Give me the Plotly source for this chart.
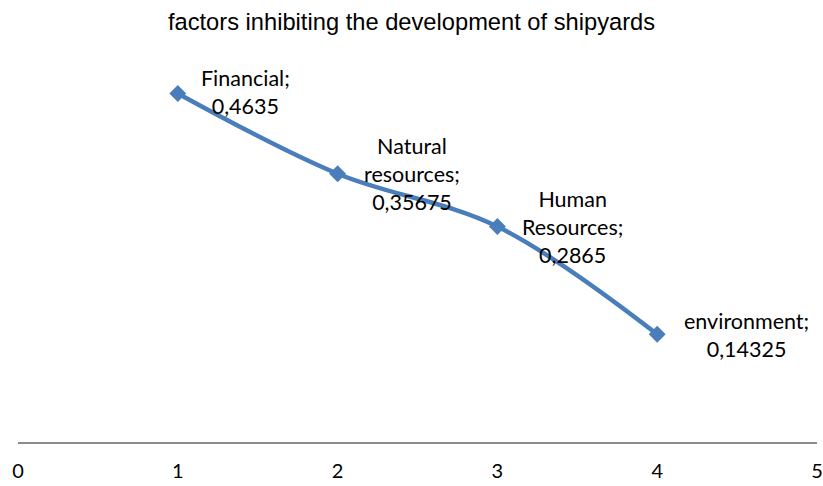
import plotly.graph_objects as go

x_vals = [1, 2, 3, 4]
y_vals = [0.4635, 0.35675, 0.2865, 0.14325]
label_names = ["Financial;", "Natural<br>resources;", "Human<br>Resources;", "environment;"]
label_values = ["0,4635", "0,35675", "0,2865", "0,14325"]
label_xshift = [68, 74, 75, 89]
label_yshift = [1, 0, 0, -1]
x_ticks = [0, 1, 2, 3, 4, 5]

fig = go.Figure()
fig.add_trace(go.Scatter(
    x=x_vals, y=y_vals, mode="lines+markers",
    line=dict(color="#4a7ebb", width=4.5, shape="spline", smoothing=1.0),
    marker=dict(symbol="diamond", size=13, color="#4a7ebb"),
    showlegend=False, hoverinfo="skip", cliponaxis=False,
))

for xv, yv, nm, val, xs, ys in zip(x_vals, y_vals, label_names, label_values, label_xshift, label_yshift):
    fig.add_annotation(
        x=xv, y=yv, xref="x", yref="y", text=f"{nm}<br>{val}",
        showarrow=False, xshift=xs, yshift=ys, align="center",
        font=dict(family="Lato, Open Sans, sans-serif", size=21.5, color="#000000"),
    )

fig.update_layout(
    width=823, height=486,
    margin=dict(l=18, r=6, t=66, b=44, autoexpand=False),
    paper_bgcolor="white", plot_bgcolor="white",
    title=dict(text="factors inhibiting the development of shipyards",
               x=0.5, xanchor="center", y=1 - 22/486, yanchor="middle",
               font=dict(family="Liberation Sans Narrow, Liberation Sans, Arial", size=23.7, color="#000000")),
    xaxis=dict(range=[0, 5], tickvals=x_ticks, ticktext=[str(t) for t in x_ticks],
               showgrid=False, zeroline=False, showline=True, linecolor="#8c8c8c", linewidth=2,
               ticks="", ticklabelstandoff=10, automargin=False,
               tickfont=dict(family="Lato, Open Sans, sans-serif", size=20, color="#000000")),
    yaxis=dict(range=[0, 0.5], visible=False, showgrid=False, zeroline=False, automargin=False),
)

fig.write_html("out.html", config={"displayModeBar": False},
               post_script="document.body.style.margin='0';document.body.style.overflow='hidden';")
